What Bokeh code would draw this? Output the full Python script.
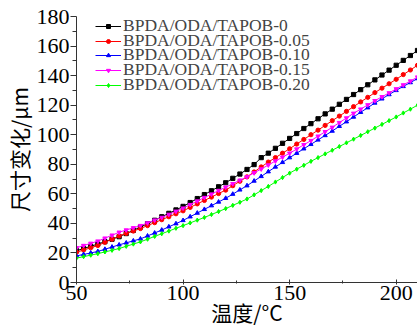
from bokeh.plotting import figure
from bokeh.models import Range1d, Legend, LegendItem, FixedTicker
from bokeh.embed import file_html
from bokeh.resources import INLINE

temperature = [50, 53.33, 56.67, 60, 63.33, 66.67, 70, 73.33, 76.67, 80, 83.33, 86.67,
               90, 93.33, 96.67, 100, 103.33, 106.67, 110, 113.33, 116.67, 120, 123.33,
               126.67, 130, 133.33, 136.67, 140, 143.33, 146.67, 150, 153.33, 156.67, 160,
               163.33, 166.67, 170, 173.33, 176.67, 180, 183.33, 186.67, 190, 193.33,
               196.67, 200, 203.33, 206.67, 210]

tapob_0 = [21.5, 23, 24.5, 26, 27.6, 29.3, 31, 33.1, 35.3, 37.5, 39.8, 42.1, 44.5, 46.8,
           49.1, 51.5, 54.1, 56.8, 59.5, 62.1, 64.8, 67.5, 70.5, 73.4, 76.5, 79.8, 84.5,
           87.5, 90.8, 94.2, 97.5, 100.8, 104.2, 107.5, 110.8, 114.1, 117.3, 120.6, 123.9,
           127.2, 130.5, 133.8, 137.1, 140.4, 143.7, 147, 150.3, 153.6, 157]
tapob_005 = [20.5, 22, 23.5, 25, 27.2, 29.3, 31.5, 33.2, 34.8, 36.5, 38.5, 40.5, 42.5, 44.5,
             46.5, 48.5, 50.8, 53.2, 55.5, 57.8, 60.2, 62.5, 65.5, 68.5, 71.5, 74.8, 78.2,
             81.5, 84.5, 87.5, 90.5, 93.7, 96.8, 100, 103.1, 106.3, 109.5, 112.6, 115.8,
             119, 122.2, 125.3, 128.5, 131.5, 134.5, 137.5, 140.7, 143.8, 147]
tapob_010 = [18, 19, 20, 21, 22.5, 24, 25.5, 26.8, 28.2, 29.5, 31.5, 33.5, 35.5, 37.7, 39.8,
             42, 44.5, 47, 49.5, 52, 54.5, 57, 59.8, 62.7, 65.5, 68.7, 71.8, 75, 78.2, 81.3,
             84.5, 87.5, 90.5, 93.5, 96.5, 99.5, 102.5, 105.7, 108.8, 112, 115.2, 118.3,
             121.5, 124.3, 127.2, 130, 132.7, 135.3, 138]
tapob_015 = [23.5, 25, 26.5, 28, 30, 32, 34, 35.5, 37, 38.5, 40.3, 42.2, 44, 46.1, 48.2, 50.3,
             52.7, 55.1, 57.5, 59.8, 62.2, 64.5, 66.8, 69.2, 71.5, 74.2, 76.8, 79.5, 82.2,
             84.8, 87.5, 90.3, 93.2, 96, 99, 102, 105, 108.2, 111.3, 114.5, 117.3, 120.2,
             123, 125.7, 128.3, 131, 133.7, 136.3, 139]
tapob_020 = [16.5, 17.5, 18.5, 19.5, 20.7, 21.8, 23, 24.5, 26, 27.5, 29.3, 31.2, 33, 34.8,
             36.7, 38.5, 40.3, 42.2, 44, 46, 48, 50, 52.2, 54.3, 56.5, 59.3, 62.2, 65, 68,
             71, 74, 76.7, 79.3, 82, 84.5, 87, 89.5, 92, 94.5, 97, 99.5, 102, 104.5, 107,
             109.5, 112, 114.7, 117.3, 120]

series_names = ["BPDA/ODA/TAPOB-0", "BPDA/ODA/TAPOB-0.05", "BPDA/ODA/TAPOB-0.10",
                "BPDA/ODA/TAPOB-0.15", "BPDA/ODA/TAPOB-0.20"]
series_values = [tapob_0, tapob_005, tapob_010, tapob_015, tapob_020]
colors = ["#000000", "#ff0000", "#0000ff", "#ff00ff", "#00ff00"]
markers = ["square", "circle", "triangle", "inverted_triangle", "diamond"]
x_ticks = [50, 100, 150, 200]
x_minor = [75, 125, 175]
y_ticks = [0, 20, 40, 60, 80, 100, 120, 140, 160, 180]
y_minor = [10, 30, 50, 70, 90, 110, 130, 150, 170]

FONT = "Liberation Serif"
BORDER_TOP = 16
BORDER_BOTTOM = 49
HEIGHT = 331
FRAME_H = HEIGHT - BORDER_TOP - BORDER_BOTTOM

p = figure(width=417, height=HEIGHT, output_backend="svg", toolbar_location=None,
           x_range=Range1d(50, 210), y_range=Range1d(0, 180),
           min_border_left=76, min_border_right=0, min_border_top=BORDER_TOP,
           min_border_bottom=BORDER_BOTTOM)
p.outline_line_color = None
p.grid.visible = False
p.background_fill_color = "white"
p.border_fill_color = "white"

renderers = []
for name, vals, c, m in zip(series_names, series_values, colors, markers):
    r1 = p.line(temperature, vals, line_color=c, line_width=1)
    r2 = p.scatter(temperature, vals, marker=m, size=4.2, fill_color=c, line_color=c)
    renderers.append((name, [r1, r2]))

# one legend per row so the rows can sit as tightly as in the reference
row_h = 14.75
box_h = 19
for i, (name, rs) in enumerate(renderers):
    center_from_top = 10.3 + i * row_h
    y_loc = int(round(FRAME_H - center_from_top - box_h / 2))
    lg = Legend(items=[LegendItem(label=name, renderers=rs)],
                location=(19, y_loc),
                margin=0, padding=0, spacing=0, label_height=box_h, glyph_height=10,
                glyph_width=26, label_standoff=2, label_text_font=FONT,
                label_text_font_size="17.5px", border_line_color=None,
                background_fill_alpha=0)
    p.add_layout(lg)

xa = p.xaxis[0]
xa.ticker = FixedTicker(ticks=x_ticks, minor_ticks=x_minor)
xa.major_tick_in = 3
xa.major_tick_out = 2
xa.minor_tick_in = 2
xa.minor_tick_out = 1
xa.major_label_standoff = 1
xa.axis_label = "温度/°C"
xa.axis_label_standoff = -6

ya = p.yaxis[0]
ya.ticker = FixedTicker(ticks=y_ticks, minor_ticks=y_minor)
ya.major_tick_in = 0
ya.major_tick_out = 6
ya.minor_tick_in = 0
ya.minor_tick_out = 4
ya.major_label_standoff = 1
ya.axis_label = "尺寸变化/μm"
ya.axis_label_standoff = 0

for ax in (xa, ya):
    ax.axis_line_color = "#333333"
    ax.major_tick_line_color = "#333333"
    ax.minor_tick_line_color = "#333333"
    ax.major_label_text_font = FONT
    ax.major_label_text_font_size = "22px"
    ax.major_label_text_color = "black"
    ax.axis_label_text_font = "Noto Sans CJK SC"
    ax.axis_label_text_font_size = "21px"
    ax.axis_label_text_font_style = "normal"
    ax.axis_label_text_color = "black"

open("out.html", "w").write(file_html(p, INLINE))
